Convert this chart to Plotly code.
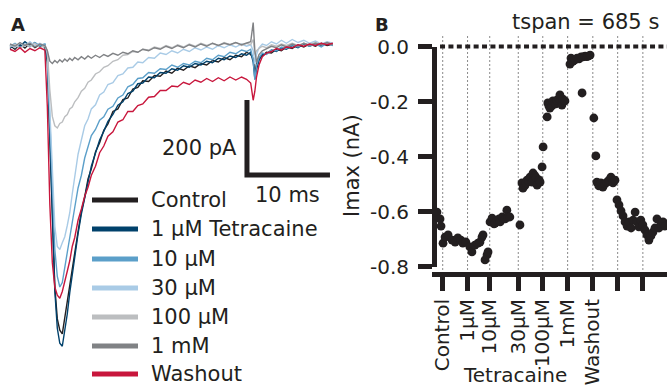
import plotly.graph_objects as go

W, H = 667, 387
FONT = "DejaVu Sans"
INK = "#231f20"

# ---------------- Panel A: current traces (time in ms, current in pA) ----------------
t_ms = [0, 0.6, 1.2, 1.8, 2.4, 3.0, 3.6, 4.2,
        4.5, 4.8, 5.1, 5.4, 5.7, 6.0, 6.3, 6.6, 6.9, 7.2,
        7.5, 7.8, 8.2, 8.6, 9.0, 9.4, 9.8, 10.3, 10.8, 11.3,
        11.8, 12.4, 13.0, 13.6, 14.2, 14.8, 15.4, 16.0, 16.7, 17.4,
        18.1, 18.8, 19.5, 20.2, 20.9, 21.6, 22.3, 23.0, 23.7, 24.4,
        25.1, 25.8, 26.5, 27.2, 27.9, 28.5, 29.0, 29.3, 29.5, 29.7,
        30.0, 30.4, 30.9, 31.5, 32.1, 32.7, 33.3, 34.0, 34.7, 35.4,
        36.1, 36.8, 37.5, 38.2, 38.9]

i_control = [4, -6, 8, -3, 10, -2, 6, 0,
             -40, -260, -480, -640, -725, -755, -765, -720, -682, -630,
             -592, -540, -492, -438, -400, -352, -325, -280, -255, -222,
             -205, -172, -165, -140, -136, -112, -108, -90, -92, -76,
             -78, -64, -70, -56, -62, -50, -55, -44, -48, -36,
             -40, -28, -34, -22, -26, -14, -20, -30, -70, -45,
             -30, -24, -14, -16, -6, -10, 0, -4, 6, 0,
             8, 2, 10, 4, 8]

i_1uM = [-4, 8, 2, 14, 4, 12, 0, 6,
         -30, -240, -470, -650, -750, -790, -798, -760, -712, -655,
         -605, -552, -498, -445, -398, -360, -318, -285, -248, -225,
         -198, -180, -155, -146, -124, -118, -98, -96, -80, -82,
         -68, -70, -58, -62, -50, -54, -44, -48, -38, -42,
         -30, -34, -24, -28, -18, -22, -14, -40, -85, -60,
         -36, -20, -18, -8, -12, -2, -6, 4, -2, 8,
         2, 10, 4, 12, 6]

i_10uM = [2, 10, -2, 8, 0, 12, 4, 8,
          -20, -200, -395, -540, -612, -640, -628, -592, -548, -508,
          -462, -428, -376, -342, -296, -268, -236, -220, -195, -186,
          -166, -158, -136, -128, -106, -100, -84, -82, -68, -70,
          -58, -60, -48, -54, -44, -48, -38, -42, -30, -34,
          -22, -26, -14, -18, -8, -12, -6, -35, -88, -50,
          -28, -16, -20, -8, -10, 0, -4, 6, 0, 10,
          2, 8, 0, 10, 4]

i_30uM = [6, -2, 10, 2, 14, 4, 10, 2,
          -15, -175, -355, -478, -532, -540, -522, -506, -476, -442,
          -392, -348, -286, -248, -210, -192, -165, -154, -128, -120,
          -100, -95, -76, -72, -56, -54, -40, -42, -28, -30,
          -16, -20, -10, -16, -6, -12, -2, -8, 0, -6,
          4, -2, 6, 0, 8, 2, 6, -10, -45, -20,
          -2, 8, 4, 14, 8, 18, 10, 20, 12, 18,
          10, 16, 8, 14, 10]

i_100uM = [0, 8, -4, 6, 2, 10, -2, 4,
           -10, -115, -185, -210, -216, -204, -200, -186, -180, -165,
           -160, -146, -135, -118, -110, -94, -88, -72, -66, -54,
           -50, -38, -34, -22, -20, -12, -14, -6, -8, 0,
           -4, 4, -2, 6, 0, 8, 2, 10, 4, 10,
           4, 12, 6, 12, 4, 10, 6, 20, -20, -10,
           -4, 2, -2, 6, 2, 8, 4, 10, 4, 10,
           6, 12, 6, 12, 8]

i_1mM = [8, 2, 12, 4, 10, 0, 8, 4,
         -10, -38, -44, -36, -42, -34, -40, -32, -38, -30,
         -36, -28, -34, -26, -32, -24, -30, -22, -28, -20,
         -25, -17, -22, -14, -18, -10, -14, -6, -10, -2,
         -6, 2, -4, 4, -2, 6, 0, 8, 2, 10,
         4, 10, 6, 12, 6, 10, 14, 65, -10, -40,
         -20, -10, -4, 2, -2, 6, 0, 8, 2, 10,
         4, 10, 6, 12, 6]

i_washout = [-6, -12, -2, -14, -4, -10, -2, -8,
             -160, -420, -575, -640, -662, -670, -652, -628, -598, -570,
             -532, -508, -462, -432, -398, -374, -342, -318, -282, -264,
             -238, -226, -200, -194, -172, -172, -156, -152, -134, -132,
             -116, -116, -104, -106, -94, -100, -88, -94, -84, -92,
             -82, -90, -80, -88, -80, -86, -96, -142, -118, -80,
             -48, -26, -16, -12, -4, -8, 0, -2, 6, 2,
             8, 4, 10, 6, 10]

trace_names = ["Control", "1 µM Tetracaine", "10 µM", "30 µM", "100 µM", "1 mM", "Washout"]
trace_values = [i_control, i_1uM, i_10uM, i_30uM, i_100uM, i_1mM, i_washout]
trace_colors = ["#231f20", "#00416b", "#5b9fc9", "#a9cbe6", "#bcbec0", "#808285", "#c8163c"]

scalebar_ms = 10
scalebar_pA = 200

# ---------------- Panel B: Imax over time (time in s, Imax in nA) ----------------
b_time_s = [6, 15, 18, 24, 30, 39, 51, 60, 68, 77, 83, 92, 104, 110, 119, 128, 134, 140, 143,
            149, 155, 158, 164, 170, 176, 179, 185, 191, 194, 200, 203, 209, 214, 217, 223,
            253, 259, 262, 268, 271, 274, 280, 283, 289, 292, 298, 301, 304, 310, 313, 319, 322,
            334, 336, 339, 342, 348, 351, 357, 360, 363, 369, 372, 378, 381, 387,
            402, 405, 408, 411, 417, 423, 429, 435, 438, 441, 447, 452, 456, 462,
            473, 479, 482, 488, 494, 500, 506, 512, 518, 524, 530, 536,
            542, 548, 554, 560, 566, 572, 578, 584, 590, 596, 602, 607, 613, 619,
            625, 631, 637, 643, 649, 655, 661, 667, 673, 679, 685]
b_imax_nA = [-0.602, -0.627, -0.653, -0.715, -0.693, -0.685, -0.704, -0.711, -0.696, -0.704,
             -0.715, -0.711, -0.729, -0.747, -0.722, -0.715, -0.711, -0.693, -0.685,
             -0.776, -0.758, -0.747, -0.638, -0.624, -0.645, -0.642, -0.631, -0.627, -0.638,
             -0.620, -0.624, -0.627, -0.595, -0.620, -0.620,
             -0.649, -0.496, -0.515, -0.505, -0.496, -0.486, -0.490, -0.475, -0.493, -0.460,
             -0.470, -0.478, -0.504, -0.485, -0.493, -0.438, -0.365,
             -0.256, -0.205, -0.215, -0.224, -0.216, -0.198, -0.205, -0.209, -0.195, -0.190,
             -0.176, -0.213, -0.191, -0.198,
             -0.064, -0.042, -0.055, -0.053, -0.049, -0.042, -0.045, -0.038, -0.169, -0.038,
             -0.035, -0.037, -0.035, -0.031,
             -0.260, -0.398, -0.493, -0.507, -0.496, -0.511, -0.500, -0.493, -0.486, -0.475,
             -0.496, -0.486,
             -0.558, -0.576, -0.598, -0.616, -0.638, -0.653, -0.638, -0.660, -0.631, -0.602,
             -0.638, -0.656, -0.631, -0.649,
             -0.667, -0.685, -0.704, -0.689, -0.675, -0.660, -0.627, -0.660, -0.645, -0.638,
             -0.653]
b_tick_s = [23, 97, 163, 248, 321, 395, 470, 544, 619]
b_tick_labels = ["Control", "1µM", "10µM", "30µM", "100µM", "1mM", "Washout", "", ""]
b_ytick_vals = [0, -0.2, -0.4, -0.6, -0.8]
b_ytick_text = ["0.0", "-0.2", "-0.4", "-0.6", "-0.8"]
tspan_s = 685


def px(x):
    return x / W


def py(y):
    return 1 - y / H


fig = go.Figure()

for name, vals, col in zip(trace_names, trace_values, trace_colors):
    fig.add_trace(go.Scatter(x=t_ms, y=vals, mode="lines", name=name,
                             line=dict(color=col, width=1.4),
                             xaxis="x", yaxis="y", showlegend=False))

# scale bar (L shape) in data units
sb_t0, sb_i0 = 28.55, -341
fig.add_trace(go.Scatter(
    x=[sb_t0, sb_t0, sb_t0 + scalebar_ms],
    y=[sb_i0 + scalebar_pA, sb_i0, sb_i0],
    mode="lines", line=dict(color=INK, width=5),
    xaxis="x", yaxis="y", showlegend=False))

fig.add_trace(go.Scatter(x=b_time_s, y=b_imax_nA, mode="markers",
                         marker=dict(color=INK, size=8.8, line=dict(width=0)),
                         xaxis="x2", yaxis="y2", cliponaxis=False, showlegend=False))

shapes = []
annotations = []

# legend for panel A
legend_rows = [200, 229, 259, 288, 317, 346, 374]
for name, col, ry in zip(trace_names, trace_colors, legend_rows):
    shapes.append(dict(type="line", xref="paper", yref="paper",
                       x0=px(92), x1=px(138), y0=py(ry), y1=py(ry),
                       line=dict(color=col, width=5)))
    annotations.append(dict(text=name, xref="paper", yref="paper", x=px(149), y=py(ry),
                            xanchor="left", yanchor="middle", showarrow=False,
                            font=dict(family=FONT, size=21, color=INK)))

# scale bar labels
annotations.append(dict(text=f"{scalebar_pA} pA", xref="x", yref="y", x=27.6, y=-268,
                        xanchor="right", yanchor="middle", showarrow=False,
                        font=dict(family=FONT, size=21, color=INK)))
annotations.append(dict(text=f"{scalebar_ms} ms", xref="x", yref="y", x=33.4, y=-394,
                        xanchor="center", yanchor="middle", showarrow=False,
                        font=dict(family=FONT, size=21, color=INK)))

# panel B: dashed solution-change lines and dotted zero line
for ts in b_tick_s:
    shapes.append(dict(type="line", xref="x2", yref="paper", x0=ts, x1=ts,
                       y0=py(274), y1=py(35), layer="below",
                       line=dict(color="#8a8a8a", width=1, dash="2px,2px")))
shapes.append(dict(type="line", xref="x2", yref="paper", x0=15, x1=700,
                   y0=py(46.5), y1=py(46.5),
                   line=dict(color=INK, width=4, dash="5px,3.4px")))

annotations += [
    dict(text="<b>A</b>", xref="paper", yref="paper", x=px(9), y=py(25),
         xanchor="left", yanchor="middle", showarrow=False,
         font=dict(family=FONT, size=18, color=INK)),
    dict(text="<b>B</b>", xref="paper", yref="paper", x=px(373), y=py(25),
         xanchor="left", yanchor="middle", showarrow=False,
         font=dict(family=FONT, size=18, color=INK)),
    dict(text=f"tspan = {tspan_s} s", xref="paper", yref="paper", x=px(661), y=py(22),
         xanchor="right", yanchor="middle", showarrow=False,
         font=dict(family=FONT, size=21, color=INK)),
    dict(text="Imax (nA)", xref="paper", yref="paper", x=px(352), y=py(166),
         xanchor="center", yanchor="middle", textangle=-90, showarrow=False,
         font=dict(family=FONT, size=21, color=INK)),
    dict(text="Tetracaine", xref="paper", yref="paper", x=px(515), y=py(361),
         xanchor="center", yanchor="top", showarrow=False,
         font=dict(family=FONT, size=20, color=INK)),
]

fig.update_layout(
    width=W, height=H, margin=dict(l=0, r=0, t=0, b=0, pad=0, autoexpand=False),
    paper_bgcolor="white", plot_bgcolor="white",
    hovermode=False, showlegend=False,
    font=dict(family=FONT, color=INK),
    xaxis=dict(domain=[0, px(340)], range=[-10 / 8.3, 330 / 8.3], visible=False),
    yaxis=dict(domain=[0, 1], range=[-340 / 0.375, 47 / 0.375], visible=False),
    xaxis2=dict(domain=[px(432), 1], range=[-8.9, 690.9], anchor="free", position=py(274),
                showline=True, linewidth=5, linecolor=INK,
                ticks="outside", ticklen=14, tickwidth=5, tickcolor=INK,
                tickvals=b_tick_s, ticktext=b_tick_labels, tickangle=-90,
                tickfont=dict(family=FONT, size=20, color=INK),
                showgrid=False, zeroline=False, automargin=False),
    yaxis2=dict(domain=[py(266.5), py(46.5)], range=[-0.8, 0], anchor="free", position=px(434),
                showline=True, linewidth=5, linecolor=INK,
                ticks="outside", ticklen=14, tickwidth=5, tickcolor=INK,
                tickvals=b_ytick_vals, ticktext=b_ytick_text,
                tickfont=dict(family=FONT, size=20, color=INK), ticklabelstandoff=5,
                showgrid=False, zeroline=False, automargin=False),
    shapes=shapes, annotations=annotations,
)

fig.write_html("out.html", config={"displayModeBar": False},
               post_script="document.body.style.margin='0';document.body.style.overflow='hidden';")
